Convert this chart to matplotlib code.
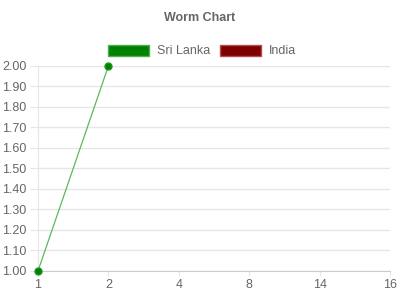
import matplotlib
matplotlib.use('Agg')
import matplotlib.pyplot as plt
from matplotlib.patches import Patch
import numpy as np

# data
overs = ['1', '2', '4', '8', '14', '16']
sri_lanka = [1.00, 2.00]
india = []

GREY = '#666666'
GRID = '#e6e6e6'

plt.rcParams['font.family'] = ['Liberation Sans', 'DejaVu Sans']

fig = plt.figure(figsize=(4, 3), dpi=100)
ax = fig.add_axes([0.095, 0.0967, 0.88, 0.6833])

xpos = np.arange(len(overs))
ax.plot(xpos[:len(sri_lanka)], sri_lanka, color='#5cb85c', lw=0.9,
        marker='o', markersize=5, markerfacecolor='#008000',
        markeredgecolor='#1a991a', zorder=3, clip_on=False)
if india:
    ax.plot(xpos[:len(india)], india, color='#800000', lw=0.9,
            marker='o', markersize=5, zorder=3, clip_on=False)

ax.set_xlim(0, len(overs) - 1)
ax.set_ylim(1.0, 2.0)
ax.set_xticks(xpos)
ax.set_xticklabels(overs)
yt = np.round(np.arange(1.0, 2.001, 0.1), 2)
ax.set_yticks(yt)
ax.set_yticklabels(['%.2f' % v for v in yt])

ax.grid(axis='y', color=GRID, lw=1)
ax.set_axisbelow(True)
for s in ['top', 'right']:
    ax.spines[s].set_visible(False)
ax.spines['left'].set_color(GRID)
ax.spines['bottom'].set_color('#cccccc')
ax.tick_params(axis='y', length=5.8, color=GRID, labelsize=9, labelcolor=GREY, pad=2.5)
ax.tick_params(axis='x', length=3.6, color=GRID, labelsize=9, labelcolor=GREY, pad=2.5)

fig.text(0.5, 0.94, 'Worm Chart', ha='center', va='center',
         fontsize=9, fontweight='bold', color=GREY)

handles = [Patch(facecolor='#008000', edgecolor='#4caf50', lw=1),
           Patch(facecolor='#800000', edgecolor='#b05050', lw=1)]
fig.legend(handles, ['Sri Lanka', 'India'], loc='center',
           bbox_to_anchor=(0.505, 0.83), ncol=2, frameon=False,
           fontsize=9, labelcolor=GREY, handlelength=3.3, handleheight=1.0,
           handletextpad=0.6, columnspacing=0.8)

fig.savefig('out.png', dpi=100)
